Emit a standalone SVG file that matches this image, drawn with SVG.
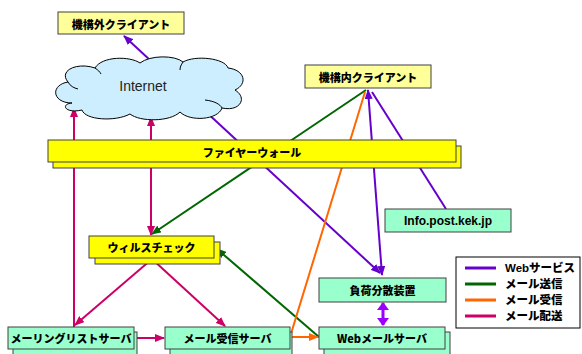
<svg xmlns="http://www.w3.org/2000/svg" width="582" height="354" viewBox="0 0 582 354">
<style>
.jp{font-family:"Noto Sans CJK JP","Liberation Sans",sans-serif;font-weight:900;font-size:11px;fill:#000;text-anchor:middle;dominant-baseline:central}
.lat{font-family:"Liberation Sans",Arial,sans-serif;font-weight:bold;font-size:12px;fill:#000;text-anchor:middle;dominant-baseline:central}
.lg{font-family:"Liberation Sans","Noto Sans CJK JP",sans-serif;font-weight:900;font-size:11.5px;fill:#000;dominant-baseline:central}
.bx{stroke:#404040;stroke-width:1}
.ly{fill:#ffff99}
.y{fill:#ffff00}
.m{fill:#99ffcc}
.c{fill:none;stroke-width:2}
.web{stroke:#6600cc}
.snd{stroke:#006600}
.rcv{stroke:#ff6600}
.dlv{stroke:#cc0066}
</style>
<defs>
<marker id="aw" markerUnits="userSpaceOnUse" markerWidth="10" markerHeight="8" refX="9" refY="4" orient="auto-start-reverse"><path d="M0,0 L10,4 L0,8 z" fill="#6600cc"/></marker>
<marker id="ag" markerUnits="userSpaceOnUse" markerWidth="10" markerHeight="8" refX="9" refY="4" orient="auto-start-reverse"><path d="M0,0 L10,4 L0,8 z" fill="#006600"/></marker>
<marker id="ao" markerUnits="userSpaceOnUse" markerWidth="10" markerHeight="8" refX="9" refY="4" orient="auto-start-reverse"><path d="M0,0 L10,4 L0,8 z" fill="#ff6600"/></marker>
<marker id="am" markerUnits="userSpaceOnUse" markerWidth="10" markerHeight="8" refX="9" refY="4" orient="auto-start-reverse"><path d="M0,0 L10,4 L0,8 z" fill="#cc0066"/></marker>
<marker id="av" markerUnits="userSpaceOnUse" markerWidth="8" markerHeight="12" refX="7" refY="6" orient="auto-start-reverse"><path d="M0,0 L8,6 L0,12 z" fill="#9900ff"/></marker>
</defs>
<rect width="582" height="354" fill="#ffffff"/>
<g id="connectors">
<line class="c web" x1="380" y1="273" x2="124" y2="36" marker-start="url(#aw)" marker-end="url(#aw)"/>
<line class="c web" x1="382" y1="275" x2="368" y2="90" marker-start="url(#aw)" marker-end="url(#aw)"/>
<line class="c web" x1="446" y1="209" x2="372" y2="92"/>
<line class="c snd" x1="366" y1="90" x2="152" y2="234" marker-end="url(#ag)"/>
<line class="c snd" x1="319" y1="337" x2="217" y2="249" marker-end="url(#ag)"/>
<polyline class="c rcv" points="365,92 290,337 318,337" marker-end="url(#ao)"/>
<line class="c dlv" x1="74" y1="327" x2="74" y2="108" marker-end="url(#am)"/>
<line class="c dlv" x1="151" y1="117" x2="151" y2="235" marker-start="url(#am)" marker-end="url(#am)"/>
<line class="c dlv" x1="152" y1="259" x2="75" y2="325" marker-end="url(#am)"/>
<line class="c dlv" x1="152" y1="259" x2="225" y2="326" marker-end="url(#am)"/>
<line class="c dlv" x1="135" y1="338" x2="164" y2="338" marker-end="url(#am)"/>
<line x1="383" y1="303" x2="383" y2="325" stroke="#9900ff" stroke-width="3" marker-start="url(#av)" marker-end="url(#av)"/>
</g>
<g id="n-outside-client">
<rect class="bx ly" x="58" y="12" width="126" height="22"/>
<text class="jp" x="121" y="23.5">機構外クライアント</text>
</g>
<g id="n-internet">
<path d="M72,103 C52,103 50,85 68,82 C58,70 78,62 95,68 C102,56 130,56 140,63 C150,55 175,55 183,62 C195,55 225,58 228,68 C245,70 248,84 235,90 C248,98 240,112 222,108 C218,120 190,122 180,112 C170,122 140,122 130,114 C115,122 85,120 82,110 C65,114 60,104 72,103 Z" fill="#cceeff" stroke="#000" stroke-width="1"/>
<path d="M68,82 C70,86 74,88 78,89 M222,108 C220,104 214,101 205,100 M183,62 C181,65 180,67 180,70 M95,68 C98,70 100,72 101,74" fill="none" stroke="#000" stroke-width="1"/>
<text x="143" y="86" font-family="Liberation Sans,Arial,sans-serif" font-size="14" text-anchor="middle" dominant-baseline="central" fill="#222">Internet</text>
</g>
<g id="n-inside-client">
<rect class="bx ly" x="305" y="65" width="126" height="23"/>
<text class="jp" x="368" y="76.5">機構内クライアント</text>
</g>
<g id="n-firewall">
<rect class="bx y" x="53" y="146" width="408" height="22"/>
<rect class="bx y" x="48" y="140" width="408" height="22"/>
<text class="jp" x="252" y="152">ファイヤーウォール</text>
</g>
<g id="n-info">
<rect class="bx m" x="385" y="209" width="126" height="23"/>
<text class="lat" x="448" y="220.5">Info.post.kek.jp</text>
</g>
<g id="n-viruscheck">
<rect class="bx y" x="95" y="242" width="125" height="22"/>
<rect class="bx y" x="89" y="236" width="125" height="22"/>
<text class="jp" x="151.5" y="247">ウィルスチェック</text>
</g>
<g id="n-loadbalancer">
<rect class="bx m" x="319" y="278" width="127" height="24"/>
<text class="jp" x="382.5" y="290">負荷分散装置</text>
</g>
<g id="n-mlserver">
<rect class="bx m" x="13" y="332" width="124" height="30"/>
<rect class="bx m" x="8" y="327" width="126" height="22"/>
<text class="jp" x="71" y="338">メーリングリストサーバ</text>
</g>
<g id="n-recvserver">
<rect class="bx m" x="170" y="332" width="122" height="30"/>
<rect class="bx m" x="165" y="327" width="125" height="22"/>
<text class="jp" x="227.5" y="338">メール受信サーバ</text>
</g>
<g id="n-webmail">
<rect class="bx m" x="324" y="332" width="126" height="30"/>
<rect class="bx m" x="319" y="327" width="126" height="22"/>
<text class="jp" x="382" y="338">Webメールサーバ</text>
</g>
<g id="legend">
<rect x="456" y="257" width="124" height="71" fill="#fff" stroke="#000" stroke-width="1"/>
<line x1="465" y1="268" x2="496" y2="268" stroke="#6600cc" stroke-width="3"/>
<line x1="465" y1="284" x2="496" y2="284" stroke="#006600" stroke-width="3"/>
<line x1="465" y1="300" x2="496" y2="300" stroke="#ff6600" stroke-width="3"/>
<line x1="465" y1="316" x2="496" y2="316" stroke="#cc0066" stroke-width="3"/>
<text class="lg" x="505" y="268">Webサービス</text>
<text class="lg" x="505" y="284">メール送信</text>
<text class="lg" x="505" y="300">メール受信</text>
<text class="lg" x="505" y="316">メール配送</text>
</g>
</svg>
